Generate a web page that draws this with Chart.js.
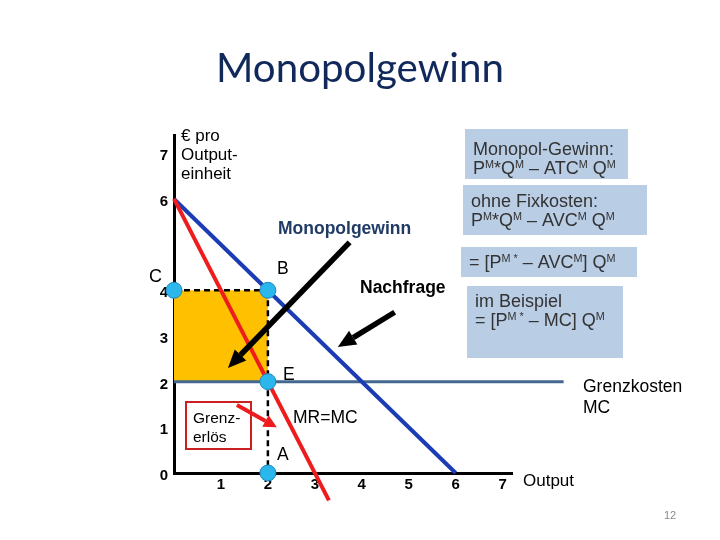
<!DOCTYPE html>
<html>
  <head>
    <meta charset="utf-8">
    <title>Monopolgewinn</title>
    <script src="https://cdn.jsdelivr.net/npm/chart.js"></script>
    <style>
      body { margin: 0; background: #fff; }
    </style>
  </head>
  <body>
    <canvas id="monopolChart" width="720" height="540"></canvas>
    <script>
      // values (x = Output, y = € pro Outputeinheit)
      const demandQ = [0, 6];
      const demandP = [6, 0];
      const mrQ = [0, 3.3];
      const mrP = [6, -0.6];
      const mcQ = [0, 8.3];
      const mcP = [2, 2];
      const profitQ = [0, 2];
      const profitP = [4, 4];
      const profitBase = 2;
      const qmLineQ = [2, 2];
      const qmLineP = [4, 0];
      const pointQ = [0, 2, 2, 2];
      const pointP = [4, 4, 2, 0];
      const xTickLabels = ["", "1", "2", "3", "4", "5", "6", "7"];
      const yTickLabels = ["0", "1", "2", "3", "4", "", "6", "7"];

      const FONT = '"Liberation Sans", Arial, sans-serif';

      function pts(xs, ys) {
        return xs.map((x, i) => ({ x: x, y: ys[i] }));
      }

      function text(ctx, str, x, y, size, color, weight) {
        ctx.font = (weight || "normal") + " " + size + "px " + FONT;
        ctx.fillStyle = color;
        ctx.textAlign = "left";
        ctx.textBaseline = "alphabetic";
        ctx.fillText(str, x, y);
      }

      // text with superscripts, segs = [[str, isSup], ...]
      function richText(ctx, segs, x, y, size, color) {
        ctx.fillStyle = color;
        ctx.textAlign = "left";
        ctx.textBaseline = "alphabetic";
        let cx = x;
        segs.forEach(([s, sup]) => {
          const fs = sup ? size * 0.6 : size;
          ctx.font = fs + "px " + FONT;
          ctx.fillText(s, cx, sup ? y - size * 0.33 : y);
          cx += ctx.measureText(s).width;
        });
      }

      function arrow(ctx, x1, y1, x2, y2, color, width, headLen, headW) {
        const a = Math.atan2(y2 - y1, x2 - x1);
        const bx = x2 - headLen * Math.cos(a);
        const by = y2 - headLen * Math.sin(a);
        ctx.strokeStyle = color;
        ctx.fillStyle = color;
        ctx.lineWidth = width;
        ctx.lineCap = "butt";
        ctx.beginPath();
        ctx.moveTo(x1, y1);
        ctx.lineTo(bx, by);
        ctx.stroke();
        const nx = -Math.sin(a) * headW / 2;
        const ny = Math.cos(a) * headW / 2;
        ctx.beginPath();
        ctx.moveTo(x2, y2);
        ctx.lineTo(bx + nx, by + ny);
        ctx.lineTo(bx - nx, by - ny);
        ctx.closePath();
        ctx.fill();
      }

      const boxes = [
        { x: 465, y: 129, w: 163, h: 50, base: [155, 174], lines: [
          [["Monopol-Gewinn:"]],
          [["P"], ["M", 1], ["*Q"], ["M", 1], [" – ATC"], ["M", 1], [" Q"], ["M", 1]]
        ] },
        { x: 463, y: 185, w: 184, h: 50, base: [207, 226], lines: [
          [["ohne Fixkosten:"]],
          [["P"], ["M", 1], ["*Q"], ["M", 1], [" – AVC"], ["M", 1], [" Q"], ["M", 1]]
        ] },
        { x: 461, y: 247, w: 176, h: 30, base: [268], lines: [
          [["= [P"], ["M *", 1], [" – AVC"], ["M", 1], ["] Q"], ["M", 1]]
        ] },
        { x: 467, y: 286, w: 156, h: 72, base: [307, 326], lines: [
          [["im Beispiel"]],
          [["= [P"], ["M *", 1], [" – MC] Q"], ["M", 1]]
        ] }
      ];

      const annotations = {
        id: "annotations",
        afterDraw(chart) {
          const ctx = chart.ctx;
          const xs = chart.scales.x;
          const ys = chart.scales.y;
          const px = (v) => xs.getPixelForValue(v);
          const py = (v) => ys.getPixelForValue(v);
          ctx.save();

          // title
          ctx.font = "42px Lato, " + FONT;
          const tw = ctx.measureText("Monopolgewinn").width;
          const ts = 42 * 288 / tw;
          ctx.font = ts + "px Lato, " + FONT;
          ctx.fillStyle = "#10285a";
          ctx.textAlign = "center";
          ctx.textBaseline = "alphabetic";
          ctx.fillText("Monopolgewinn", 360, 82);

          // arrows
          arrow(ctx, px(3.74), py(5.05), px(1.15), py(2.3), "#000", 5.5, 18, 16);
          arrow(ctx, px(4.7), py(3.52), px(3.49), py(2.76), "#000", 5.5, 18, 16);

          // Grenzerlös box + red arrow
          ctx.fillStyle = "#fff";
          ctx.fillRect(186, 402, 65, 47);
          ctx.strokeStyle = "#cc2020";
          ctx.lineWidth = 2;
          ctx.strokeRect(186, 402, 65, 47);
          text(ctx, "Grenz-", 193, 423, 15.5, "#000");
          text(ctx, "erlös", 193, 442, 15.5, "#000");
          arrow(ctx, px(1.34), py(1.49), px(2.19), py(1.0), "#ee1c1c", 4, 13, 13);

          // axis captions and labels
          text(ctx, "€ pro", 181, 141, 17, "#000");
          text(ctx, "Output-", 181, 160, 17, "#000");
          text(ctx, "einheit", 181, 179, 17, "#000");
          text(ctx, "C", 149, 282, 18, "#000");
          text(ctx, "B", 277, 274, 17.5, "#000");
          text(ctx, "E", 283, 380, 17.5, "#000");
          text(ctx, "A", 277, 460, 17.5, "#000");
          text(ctx, "MR=MC", 293, 423, 17.5, "#000");
          text(ctx, "Monopolgewinn", 278, 234, 17.5, "#1f3b66", "bold");
          text(ctx, "Nachfrage", 360, 293, 17.5, "#000", "bold");
          text(ctx, "Grenzkosten", 583, 392, 17.5, "#000");
          text(ctx, "MC", 583, 413, 17.5, "#000");
          text(ctx, "Output", 523, 486, 17, "#000");
          text(ctx, "12", 664, 519, 11, "#8a8a8a");

          // formula boxes
          boxes.forEach((b) => {
            ctx.fillStyle = "#b9cde5";
            ctx.fillRect(b.x, b.y, b.w, b.h);
            b.lines.forEach((segs, i) => {
              richText(ctx, segs, b.x + 8, b.base[i], 18, "#333");
            });
          });
          ctx.restore();
        }
      };

      const intTicks = (scale) => {
        scale.ticks = [0, 1, 2, 3, 4, 5, 6, 7].map((v) => ({ value: v }));
      };

      new Chart(document.getElementById("monopolChart"), {
        type: "scatter",
        data: {
          datasets: [
            {
              label: "Gewinn",
              data: pts(profitQ, profitP),
              showLine: true,
              fill: { value: profitBase },
              backgroundColor: "#ffc000",
              borderColor: "#000",
              borderWidth: 2.5,
              borderDash: [6, 4],
              pointRadius: 0,
              order: 6
            },
            {
              label: "QM",
              data: pts(qmLineQ, qmLineP),
              showLine: true,
              borderColor: "#000",
              borderWidth: 2.5,
              borderDash: [6, 4],
              pointRadius: 0,
              order: 5
            },
            {
              label: "Grenzkosten MC",
              data: pts(mcQ, mcP),
              showLine: true,
              borderColor: "#44678f",
              borderWidth: 3,
              pointRadius: 0,
              clip: false,
              order: 4
            },
            {
              label: "Nachfrage",
              data: pts(demandQ, demandP),
              showLine: true,
              borderColor: "#1b3cb4",
              borderWidth: 4,
              pointRadius: 0,
              clip: false,
              order: 3
            },
            {
              label: "Grenzerlös",
              data: pts(mrQ, mrP),
              showLine: true,
              borderColor: "#ee1c1c",
              borderWidth: 4,
              pointRadius: 0,
              clip: false,
              order: 2
            },
            {
              label: "Punkte",
              data: pts(pointQ, pointP),
              showLine: false,
              pointRadius: 8,
              pointBackgroundColor: "#2bb6ec",
              pointBorderColor: "#1e86c0",
              pointBorderWidth: 1,
              clip: false,
              order: 1
            }
          ]
        },
        options: {
          responsive: false,
          animation: false,
          layout: { padding: { left: 134, right: 208, top: 135, bottom: 37 } },
          plugins: { legend: { display: false }, tooltip: { enabled: false } },
          scales: {
            x: {
              type: "linear",
              min: 0,
              max: 7.2,
              afterBuildTicks: intTicks,
              afterFit: (s) => { s.height = 30; },
              grid: { display: false, drawTicks: false },
              border: { display: true, color: "#000", width: 3 },
              ticks: {
                autoSkip: false,
                maxRotation: 0,
                padding: 3,
                color: "#000",
                font: { family: FONT, size: 15, weight: "bold" },
                callback: (v) => xTickLabels[v] ?? ""
              }
            },
            y: {
              type: "linear",
              min: 0,
              max: 7.4,
              afterBuildTicks: intTicks,
              afterFit: (s) => { s.width = 40; },
              grid: { display: false, drawTicks: false },
              border: { display: true, color: "#000", width: 3 },
              ticks: {
                autoSkip: false,
                padding: 6,
                labelOffset: 3,
                color: "#000",
                font: { family: FONT, size: 15, weight: "bold" },
                callback: (v) => yTickLabels[v] ?? ""
              }
            }
          }
        },
        plugins: [annotations]
      });
    </script>
  </body>
</html>
